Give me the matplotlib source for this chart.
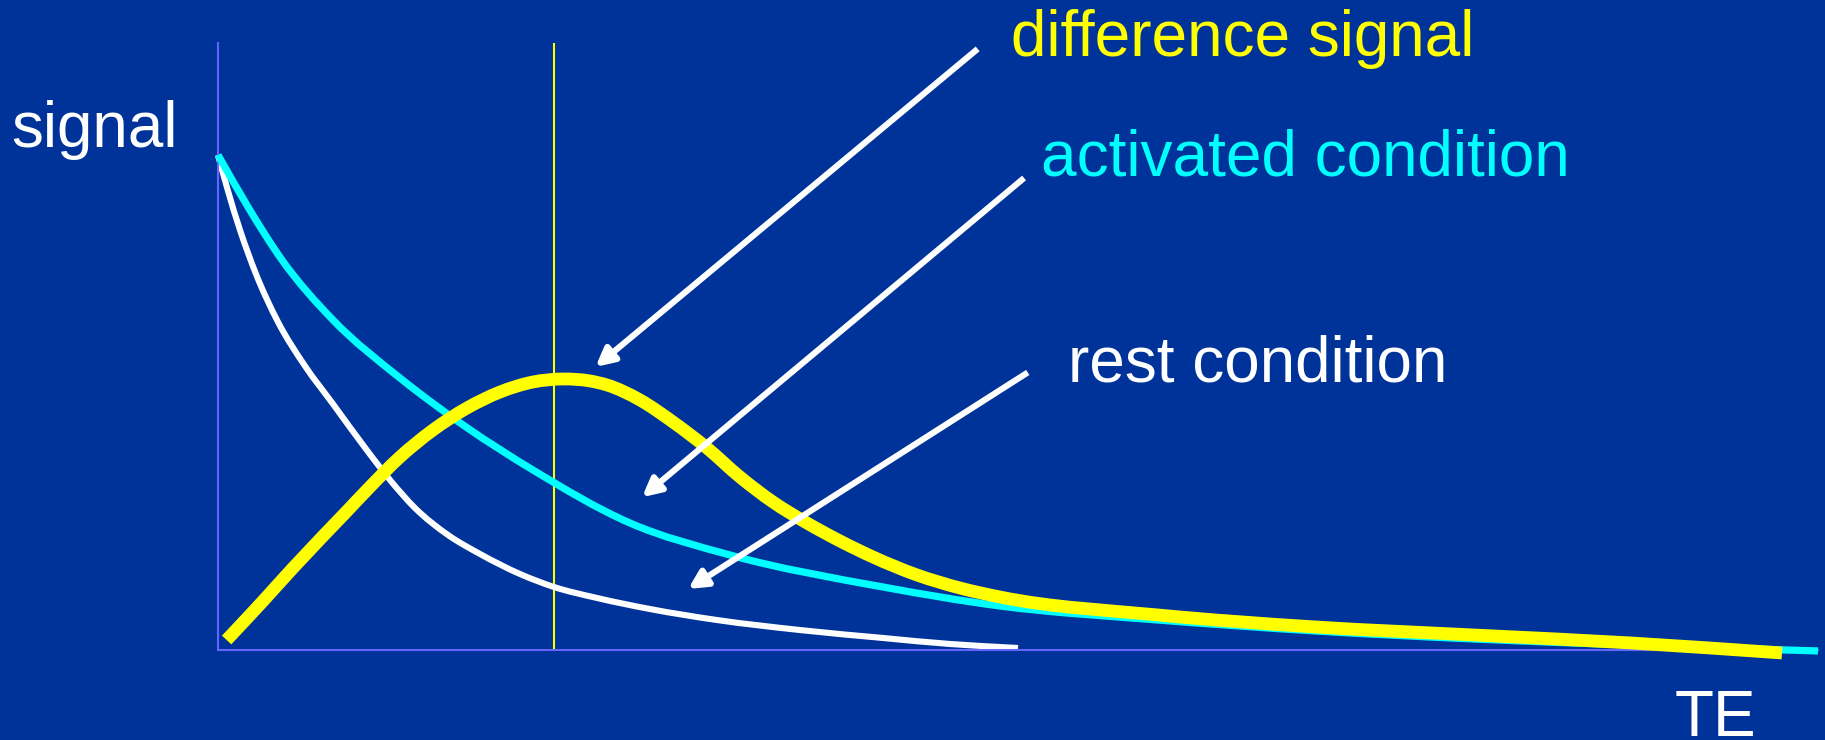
import matplotlib
matplotlib.use("Agg")
import matplotlib.pyplot as plt
import numpy as np
from matplotlib.path import Path
from matplotlib.patches import PathPatch

# ---- data (TE in arbitrary units 0..100, signal 0..100) ----
activated_te = [0.0, 1.875, 4.0, 7.1875, 11.375, 15.5, 19.6875, 25.75, 32.0, 41.5625,
                48.875, 58.75, 68.625, 78.5, 88.375, 100.0]
activated_sig = [81.55, 72.98, 64.25, 54.37, 44.81, 36.74, 29.65, 20.92, 15.65, 10.38,
                 7.25, 4.94, 3.13, 1.81, 0.82, -0.16]

rest_te = [0.0, 0.625, 1.375, 2.375, 3.75, 5.4375, 7.1875, 9.25, 10.75, 12.3125,
           14.375, 16.375, 18.875, 21.0, 23.6875, 27.0, 31.1875, 36.375, 41.5625,
           45.75, 50.0]
rest_sig = [81.55, 75.62, 69.19, 61.94, 54.04, 46.79, 40.53, 33.11, 28.01, 23.39,
            18.95, 15.82, 12.52, 10.38, 8.57, 6.75, 4.94, 3.29, 1.98, 0.99, 0.33]

diff_te = [0.54, 2.8125, 4.625, 8.125, 9.3125, 11.375, 13.4375, 15.5625, 17.625,
           19.6875, 21.5625, 23.25, 24.3125, 26.375, 28.4375, 30.5625, 32.625,
           34.6875, 36.8125, 38.875, 40.9375, 43.6875, 46.375, 48.875, 58.75, 68.625,
           78.5, 88.375, 97.75]
diff_sig = [1.65, 8.07, 13.34, 23.06, 26.36, 31.80, 36.24, 39.87, 42.50, 44.15, 44.65,
            44.32, 43.66, 41.19, 37.56, 33.28, 28.50, 24.38, 20.92, 17.96, 15.32, 12.36,
            10.21, 8.73, 5.77, 3.79, 2.47, 1.15, -0.49]

marker_te = 21.0

labels = ["difference signal", "activated condition", "rest condition"]
label_colors = ["#FFFF00", "#00FFFF", "#FFFFFF"]
arrow_tails = [(47.48, 99.03), (50.38, 77.76), (50.61, 45.72)]
arrow_tips = [(23.59, 46.62), (26.50, 25.16), (29.38, 10.05)]

y_label = "signal"
x_label = "TE"


def smooth_path(xs, ys):
    """Cubic Hermite curve through the read points, drawn as Bezier segments."""
    x = np.asarray(xs, float)
    y = np.asarray(ys, float)
    n = len(x)
    h = np.diff(x)
    d = np.diff(y) / h
    m = np.empty(n)
    m[0] = d[0]
    m[-1] = d[-1]
    for i in range(1, n - 1):
        m[i] = (d[i - 1] * h[i] + d[i] * h[i - 1]) / (h[i - 1] + h[i])
    verts = [(x[0], y[0])]
    codes = [Path.MOVETO]
    for i in range(n - 1):
        verts += [(x[i] + h[i] / 3, y[i] + m[i] * h[i] / 3),
                  (x[i + 1] - h[i] / 3, y[i + 1] - m[i + 1] * h[i] / 3),
                  (x[i + 1], y[i + 1])]
        codes += [Path.CURVE4] * 3
    return Path(np.array(verts), codes)


# ---- figure ----
W, H = 1825, 740
BG = "#003399"
AXC = "#6464FF"
fig = plt.figure(figsize=(W / 100, H / 100), dpi=100, facecolor=BG)
plt.rcParams["font.family"] = ["Liberation Sans", "DejaVu Sans"]

ax = fig.add_axes([218 / W, 90 / H, 1600 / W, 607 / H])
ax.set_facecolor(BG)
ax.set_xlim(0, 100)
ax.set_ylim(0, 100)
for s in ["top", "right"]:
    ax.spines[s].set_visible(False)
for s in ["left", "bottom"]:
    ax.spines[s].set_color(AXC)
    ax.spines[s].set_linewidth(1.5)
ax.set_xticks([])
ax.set_yticks([])

ax.axvline(marker_te, color="#FFFF00", lw=1.5, zorder=1)

for xs, ys, col, lw, z in [(rest_te, rest_sig, "white", 4.4, 2),
                           (activated_te, activated_sig, "#00FFFF", 5.2, 3),
                           (diff_te, diff_sig, "#FFFF00", 9.2, 4)]:
    patch = PathPatch(smooth_path(xs, ys), fill=False, edgecolor=col, lw=lw,
                      capstyle="butt", joinstyle="round", zorder=z, clip_on=False)
    ax.add_patch(patch)

for tail, tip in zip(arrow_tails, arrow_tips):
    ax.annotate("", xy=tip, xytext=tail, xycoords="data", textcoords="data",
                annotation_clip=False,
                arrowprops=dict(arrowstyle="-|>,head_length=0.55,head_width=0.28",
                                mutation_scale=20, color="white", lw=4.4,
                                shrinkA=0, shrinkB=0, capstyle="butt"),
                zorder=5)

FS = 46
label_pos = [(1011, 56), (1041, 176), (1068, 382)]
for txt, col, (px, py) in zip(labels, label_colors, label_pos):
    fig.text(px / W, 1 - py / H, txt, color=col, fontsize=FS, ha="left", va="baseline")

fig.text(11 / W, 1 - 147 / H, y_label, color="white", fontsize=FS, ha="left", va="baseline")
fig.text(1675 / W, 1 - 736 / H, x_label, color="white", fontsize=FS, ha="left", va="baseline")

fig.savefig("out.png", dpi=100, facecolor=BG)
